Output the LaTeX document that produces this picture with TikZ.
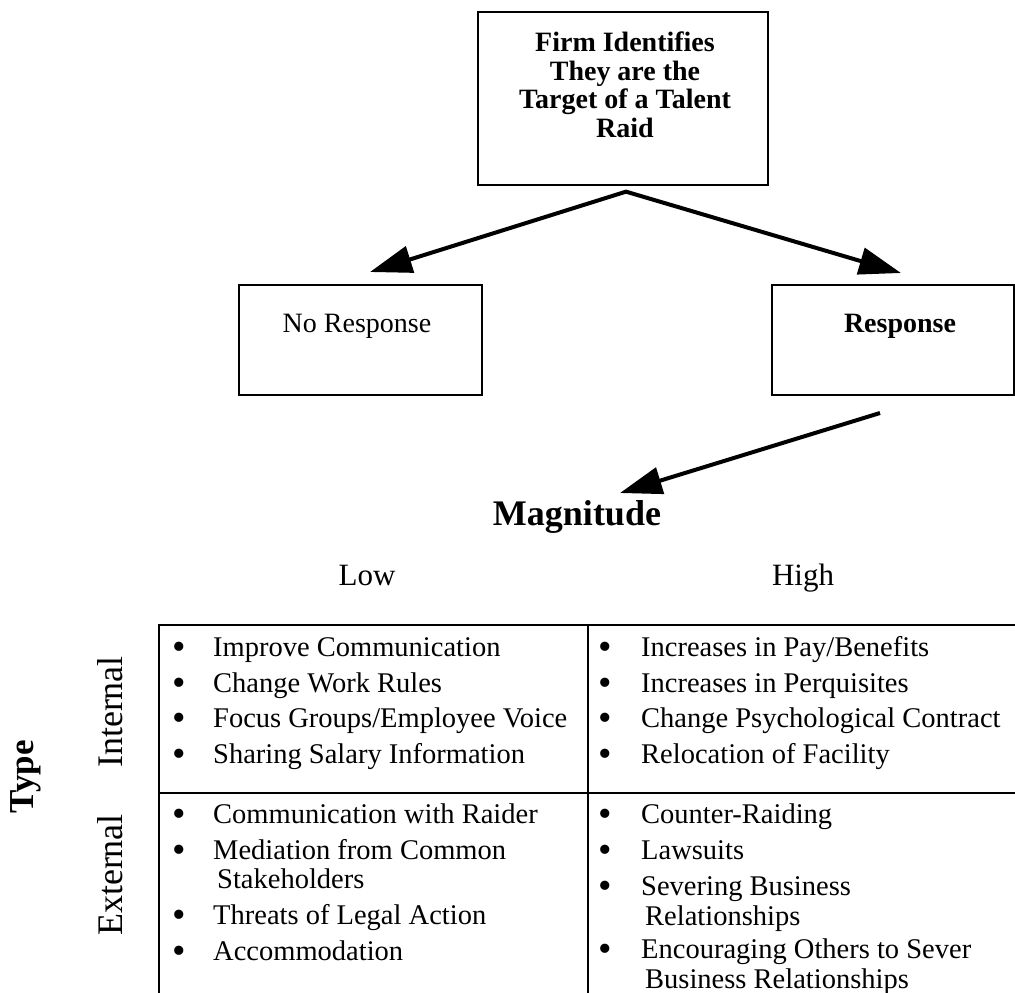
\documentclass[tikz,border=0pt]{standalone}
\usepackage{fontspec}
\usepackage{graphicx}
\setmainfont{Liberation Serif}
\usetikzlibrary{arrows.meta}
\begin{document}
\begin{tikzpicture}[x=1pt,y=-1pt,
  box/.style={draw, line width=1.3pt, inner sep=0pt},
  txt/.style={font=\fontsize{28}{28.5}\selectfont, inner sep=0pt},
  btxt/.style={font=\fontsize{28}{28.5}\selectfont\bfseries, inner sep=0pt},
  item/.style={font=\fontsize{28.5}{30}\selectfont, inner sep=0pt, anchor=base west},
  bul/.style={font=\fontsize{28.5}{30}\selectfont, inner sep=0pt, anchor=base, yshift=-3.5pt},
  rule/.style={line width=1.3pt},
  arr/.style={line width=4pt, -{Triangle[length=42pt,width=27pt]}},
  side/.style={font=\fontsize{36}{40}\selectfont, inner sep=0pt, rotate=90, anchor=base},
]
\newcommand{\bigbul}{\scalebox{1.35}{•}}
\useasboundingbox (0,0) rectangle (1015,993);
\fill[white] (0,0) rectangle (1015,993);

% top box
\node[box, minimum width=290pt, minimum height=173pt] (top) at (623,98.5) {};
\node[btxt, align=center] (toptext) at (625,85) {Firm Identifies\\They are the\\Target of a Talent\\Raid};

% second row boxes
\node[box, minimum width=243pt, minimum height=110pt] (nores) at (360.5,340) {};
\node[txt, anchor=base] (norestext) at (357,332) {No Response};
\node[box, minimum width=242pt, minimum height=110pt] (res) at (893,340) {};
\node[btxt, anchor=base] (restext) at (900,332) {Response};

% arrows
\coordinate (apex) at ([xshift=3pt,yshift=-6pt]top.south);
\coordinate (tipL) at (370,272);
\coordinate (tipR) at (901,273);
\draw[line width=4pt, line join=miter, {Triangle[length=42pt,width=27pt]}-{Triangle[length=42pt,width=27pt]}] (tipL) -- (apex) -- (tipR);
\coordinate (resout) at (880,413);
\coordinate (magtip) at (620,493);
\draw[arr] (resout) -- (magtip);

% magnitude labels
\node[font=\fontsize{36}{40}\selectfont\bfseries, inner sep=0pt, anchor=base] (mag) at (577,525) {Magnitude};
\node[font=\fontsize{31}{34}\selectfont, inner sep=0pt, anchor=base] (low) at (367,585) {Low};
\node[font=\fontsize{31}{34}\selectfont, inner sep=0pt, anchor=base] (high) at (803,585) {High};

% type labels
\node[font=\fontsize{35}{40}\selectfont\bfseries, inner sep=0pt, rotate=90, anchor=base] (type) at (34,777) {Type};
\node[side] (internal) at (122,712) {Internal};
\node[side] (external) at (122,875) {External};

% table grid
\draw[rule] (159,993) -- (159,625) -- (1015,625);
\draw[rule] (588,625) -- (588,993);
\draw[rule] (159,793) -- (1015,793);

% low / internal
\node[bul] (b1) at (179,656) {\bigbul}; \node[item] (i1) at (213,656) {Improve Communication};
\node[bul] (b2) at (179,692) {\bigbul}; \node[item] (i2) at (213,692) {Change Work Rules};
\node[bul] (b3) at (179,727) {\bigbul}; \node[item] (i3) at (213,727) {Focus Groups/Employee Voice};
\node[bul] (b4) at (179,763) {\bigbul}; \node[item] (i4) at (213,763) {Sharing Salary Information};

% high / internal
\node[bul] (b5) at (605,656) {\bigbul}; \node[item] (i5) at (641,656) {Increases in Pay/Benefits};
\node[bul] (b6) at (605,692) {\bigbul}; \node[item] (i6) at (641,692) {Increases in Perquisites};
\node[bul] (b7) at (605,727) {\bigbul}; \node[item] (i7) at (641,727) {Change Psychological Contract};
\node[bul] (b8) at (605,763) {\bigbul}; \node[item] (i8) at (641,763) {Relocation of Facility};

% low / external
\node[bul] (b9) at (179,823) {\bigbul}; \node[item] (i9) at (213,823) {Communication with Raider};
\node[bul] (b10) at (179,859) {\bigbul}; \node[item] (i10) at (213,859) {Mediation from Common};
\node[item] (i10b) at (217,888) {Stakeholders};
\node[bul] (b11) at (179,924) {\bigbul}; \node[item] (i11) at (213,924) {Threats of Legal Action};
\node[bul] (b12) at (179,960) {\bigbul}; \node[item] (i12) at (213,960) {Accommodation};

% high / external
\node[bul] (b13) at (605,823) {\bigbul}; \node[item] (i13) at (641,823) {Counter-Raiding};
\node[bul] (b14) at (605,859) {\bigbul}; \node[item] (i14) at (641,859) {Lawsuits};
\node[bul] (b15) at (605,895) {\bigbul}; \node[item] (i15) at (641,895) {Severing Business};
\node[item] (i15b) at (645,925) {Relationships};
\node[bul] (b16) at (605,958) {\bigbul}; \node[item] (i16) at (641,958) {Encouraging Others to Sever};
\node[item] (i16b) at (645,988) {Business Relationships};
\end{tikzpicture}
\end{document}
